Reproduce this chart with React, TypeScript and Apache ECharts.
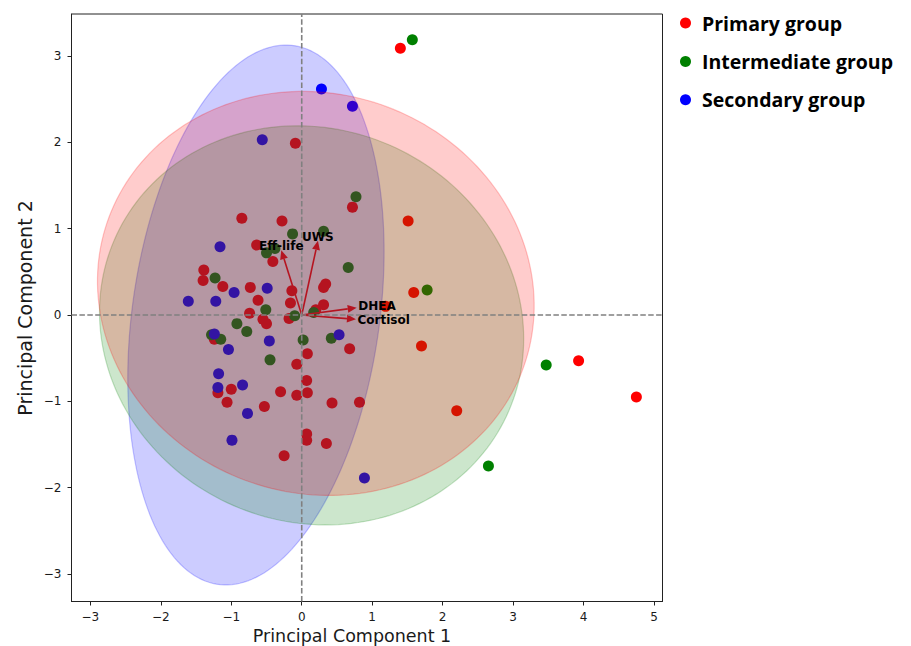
import React, { useEffect, useRef } from "react";
import * as echarts from "echarts";

// ---------- data ----------
const groupNames = ["Primary group", "Intermediate group", "Secondary group"];
const groupColors = ["#ff0000", "#008000", "#0000ff"];

const primaryPC1 = [
  1.40, 1.51, 1.59, 1.19, 1.70, 3.93, 4.75, 2.20,
  -0.09, 0.72, -0.85, -0.28, -0.64, -0.41, -1.39, -1.40, -1.12, -0.73, -0.14, 0.34,
  0.31, -0.62, -0.16, 0.31, -0.74, -0.55, -0.50, -0.18, 0.20, -1.24, 0.68, 0.08,
  -0.07, 0.07, -1.19, -1.00, -0.30, -0.07, 0.08, -1.06, -0.53, 0.43, 0.82, 0.07,
  0.07, 0.35, -0.25,
];
const primaryPC2 = [
  3.09, 1.09, 0.26, 0.10, -0.36, -0.53, -0.95, -1.11,
  1.99, 1.25, 1.12, 1.09, 0.81, 0.62, 0.52, 0.40, 0.33, 0.32, 0.28, 0.36,
  0.32, 0.17, 0.14, 0.12, 0.02, -0.05, -0.10, -0.04, 0.06, -0.28, -0.39, -0.45,
  -0.57, -0.76, -0.90, -0.86, -0.89, -0.93, -0.90, -1.01, -1.06, -1.02, -1.01, -1.38,
  -1.45, -1.49, -1.63,
];

const intermediatePC1 = [
  1.57, 0.77, -0.13, 0.31, -0.50, -0.38, 0.66, -1.23, 1.78, -0.51, -0.10,
  0.17, -0.92, -0.78, -1.28, -1.15, 0.02, 0.42, -0.45, 3.47, 2.65,
];
const intermediatePC2 = [
  3.19, 1.37, 0.94, 0.97, 0.72, 0.77, 0.55, 0.43, 0.29, 0.06, -0.01,
  0.03, -0.10, -0.19, -0.23, -0.28, -0.29, -0.27, -0.52, -0.58, -1.75,
];

const secondaryPC1 = [
  0.28, 0.72, -0.56, -1.16, -0.96, -0.49, -1.61, -1.22, -1.24,
  0.53, -0.46, -1.04, -1.18, -0.84, -1.19, -0.77, -0.99, 0.89,
];
const secondaryPC2 = [
  2.62, 2.42, 2.03, 0.79, 0.26, 0.31, 0.16, 0.16, -0.22,
  -0.23, -0.30, -0.40, -0.68, -0.81, -0.84, -1.14, -1.45, -1.89,
];

// loading vectors
const loadingNames = ["Eff-life", "UWS", "DHEA", "Cortisol"];
const loadingPC1 = [-0.29, 0.23, 0.78, 0.77];
const loadingPC2 = [0.75, 0.86, 0.085, -0.05];

// confidence ellipses (order: Primary, Intermediate, Secondary)
const ellipseCenterX = [0.2, 0.14, -0.65];
const ellipseCenterY = [0.25, -0.12, 0.0];
const ellipseSemiA = [3.107, 3.02, 3.17];
const ellipseSemiB = [2.331, 2.30, 1.745];
const ellipseAngle = [-6, -7, 78.8];

const xTicks = [-3, -2, -1, 0, 1, 2, 3, 4, 5];
const yTicks = [-3, -2, -1, 0, 1, 2, 3];
const xRange = [-3.268, 5.121];
const yRange = [-3.32, 3.488];

// ---------- helpers ----------
const fmt = (v: number) => String(v).replace("-", "\u2212");
const zip = (a: number[], b: number[]) => a.map((v, i) => [v, b[i]]);

const ellipseFill = ["rgba(255,0,0,0.2)", "rgba(0,128,0,0.2)", "rgba(0,0,255,0.2)"];
const ellipseStroke = ["rgba(255,0,0,0.22)", "rgba(0,128,0,0.22)", "rgba(0,0,255,0.22)"];

function ellipseSeries(g: number, z: number) {
  return {
    type: "custom",
    silent: true,
    z,
    encode: { x: 0, y: 1 },
    data: [[ellipseCenterX[g], ellipseCenterY[g], ellipseSemiA[g], ellipseSemiB[g], ellipseAngle[g]]],
    renderItem: (params: any, api: any) => {
      const cx = api.value(0);
      const cy = api.value(1);
      const a = api.value(2);
      const b = api.value(3);
      const ang = (api.value(4) * Math.PI) / 180;
      const pts: number[][] = [];
      const n = 200;
      for (let k = 0; k < n; k++) {
        const t = (2 * Math.PI * k) / n;
        const ex = a * Math.cos(t);
        const ey = b * Math.sin(t);
        pts.push(
          api.coord([
            cx + ex * Math.cos(ang) - ey * Math.sin(ang),
            cy + ex * Math.sin(ang) + ey * Math.cos(ang),
          ])
        );
      }
      return {
        type: "polygon",
        shape: { points: pts },
        style: { fill: ellipseFill[g], stroke: ellipseStroke[g], lineWidth: 1.2 },
      };
    },
  };
}

export default function App() {
  const ref = useRef<HTMLDivElement>(null);

  useEffect(() => {
    if (!ref.current) return;
    const chart = echarts.init(ref.current, null, { renderer: "svg" });

    const tickFont = { fontFamily: "DejaVu Sans", fontSize: 12, color: "#1a1a1a" };

    const option: any = {
      animation: false,
      backgroundColor: "#ffffff",
      grid: {
        left: 71.5,
        right: 248.5,
        top: 14,
        bottom: 44.5,
        show: true,
        borderColor: "#222",
        borderWidth: 1,
        backgroundColor: "transparent",
        containLabel: false,
        outerBoundsMode: "none",
      },
      xAxis: {
        type: "value",
        min: xRange[0],
        max: xRange[1],
        splitLine: { show: false },
        axisLine: { show: true, onZero: false, lineStyle: { color: "#222", width: 1 } },
        axisTick: { show: true, length: 4, customValues: xTicks, lineStyle: { color: "#222" } },
        axisLabel: { ...tickFont, margin: 9, customValues: xTicks, formatter: fmt },
      },
      yAxis: {
        type: "value",
        min: yRange[0],
        max: yRange[1],
        splitLine: { show: false },
        axisLine: { show: true, onZero: false, lineStyle: { color: "#222", width: 1 } },
        axisTick: { show: true, length: 4, customValues: yTicks, lineStyle: { color: "#222" } },
        axisLabel: { ...tickFont, margin: 10, customValues: yTicks, formatter: fmt },
      },
      legend: {
        data: groupNames,
        orient: "vertical",
        left: 675,
        top: 8,
        icon: "circle",
        itemWidth: 23,
        itemHeight: 11,
        itemGap: 18.4,
        textStyle: {
          fontFamily: "Open Sans",
          fontWeight: "bold",
          fontSize: 19.5,
          lineHeight: 20,
          color: "#000",
        },
      },
      graphic: [
        {
          type: "text",
          x: 352,
          y: 636,
          style: {
            text: "Principal Component 1",
            font: '17.5px "DejaVu Sans"',
            fill: "#1a1a1a",
            align: "center",
            verticalAlign: "middle",
          },
        },
        {
          type: "text",
          x: 25,
          y: 308,
          rotation: Math.PI / 2,
          style: {
            text: "Principal Component 2",
            font: '19px "DejaVu Sans"',
            fill: "#1a1a1a",
            align: "center",
            verticalAlign: "middle",
          },
        },
      ],
      series: [
        {
          name: groupNames[0],
          type: "scatter",
          z: 2,
          symbolSize: 11,
          itemStyle: { color: groupColors[0], opacity: 1 },
          data: zip(primaryPC1, primaryPC2),
        },
        {
          name: groupNames[1],
          type: "scatter",
          z: 2,
          symbolSize: 11,
          itemStyle: { color: groupColors[1], opacity: 1 },
          data: zip(intermediatePC1, intermediatePC2),
        },
        {
          name: groupNames[2],
          type: "scatter",
          z: 2,
          symbolSize: 11,
          itemStyle: { color: groupColors[2], opacity: 1 },
          data: zip(secondaryPC1, secondaryPC2),
        },
        // loading arrows (under the ellipses)
        {
          type: "custom",
          silent: true,
          z: 3,
          encode: { x: 0, y: 1 },
          data: zip(loadingPC1, loadingPC2),
          renderItem: (params: any, api: any) => {
            const o = api.coord([0, 0]);
            const p = api.coord([api.value(0), api.value(1)]);
            const dx = p[0] - o[0];
            const dy = p[1] - o[1];
            const L = Math.hypot(dx, dy);
            const ux = dx / L;
            const uy = dy / L;
            const hl = 9;
            const hw = 4;
            const bx = p[0] - ux * hl;
            const by = p[1] - uy * hl;
            return {
              type: "group",
              children: [
                {
                  type: "line",
                  shape: { x1: o[0], y1: o[1], x2: bx, y2: by },
                  style: { stroke: "#ff0000", lineWidth: 1.6 },
                },
                {
                  type: "polygon",
                  shape: {
                    points: [
                      [p[0], p[1]],
                      [bx - uy * hw, by + ux * hw],
                      [bx + uy * hw, by - ux * hw],
                    ],
                  },
                  style: { fill: "#ff0000" },
                },
              ],
            };
          },
        },
        ellipseSeries(2, 4),
        ellipseSeries(1, 5),
        ellipseSeries(0, 6),
        // zero reference lines
        {
          type: "line",
          silent: true,
          z: 7,
          symbol: "none",
          data: [
            [0, yRange[0]],
            [0, yRange[1]],
          ],
          lineStyle: { color: "#808080", width: 1.6, type: [5.5, 2.4] },
        },
        {
          type: "line",
          silent: true,
          z: 7,
          symbol: "none",
          data: [
            [xRange[0], 0],
            [xRange[1], 0],
          ],
          lineStyle: { color: "#808080", width: 1.6, type: [5.5, 2.4] },
        },
        // loading labels (on top)
        {
          type: "custom",
          silent: true,
          z: 8,
          encode: { x: 0, y: 1 },
          data: zip(loadingPC1, loadingPC2),
          renderItem: (params: any, api: any) => {
            const x = api.value(0);
            const y = api.value(1);
            const p = api.coord([x, y]);
            const horiz = Math.abs(x) > Math.abs(y);
            return {
              type: "text",
              x: p[0] + (horiz ? 1.5 : 0),
              y: p[1] + (horiz ? (y > 0 ? -1.5 : 1) : -4),
              style: {
                text: loadingNames[params.dataIndex],
                font: 'bold 12px "DejaVu Sans"',
                fill: "#000",
                align: horiz ? "left" : "center",
                verticalAlign: "middle",
              },
            };
          },
        },
      ],
    };

    chart.setOption(option);
    return () => chart.dispose();
  }, []);

  return (
    <div
      ref={ref}
      style={{ position: "absolute", left: 0, top: 0, width: 911, height: 646 }}
    />
  );
}
